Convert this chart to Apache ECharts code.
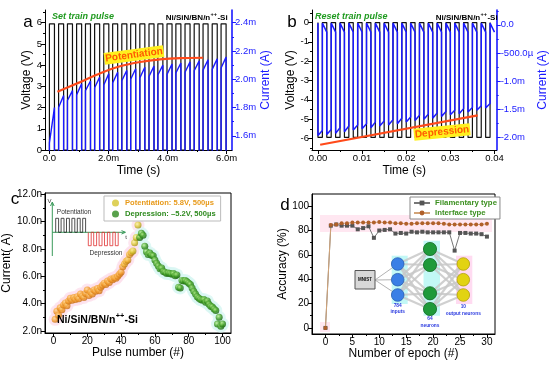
<!DOCTYPE html>
<html><head><meta charset="utf-8">
<script src="https://cdn.jsdelivr.net/npm/echarts@6/dist/echarts.min.js"></script>
<style>html,body{margin:0;padding:0;background:#fff}#c{width:550px;height:368px}</style>
</head><body><div id="c"></div><script>
// ================= DATA =================
// Panel a : set train pulse (time in ms, voltage in V, current in mA)
const setPulseStart = [0.00,0.31,0.61,0.92,1.22,1.53,1.84,2.14,2.45,2.75,3.06,3.37,3.67,3.98,4.28,4.59,4.90,5.20,5.51,5.81];
const setPulseWidth = 0.17;
const setVoltage = 5.95;
const setCurrentBase = 1.40;
const setCurrentStart = [1.55,1.80,1.85,1.89,1.92,1.94,1.96,1.975,1.99,2.00,2.01,2.02,2.03,2.035,2.045,2.05,2.06,2.065,2.07,2.08];
const setCurrentPeak  = [1.80,1.886,1.92,1.968,1.988,2.015,2.04,2.05,2.063,2.075,2.085,2.093,2.10,2.108,2.115,2.123,2.13,2.138,2.145,2.157];
const potTrendT = [0.27,1.04,1.72,2.39,3.07,3.74,4.42,5.20];
const potTrendV = [2.75,3.20,3.62,3.95,4.15,4.27,4.33,4.35];
const aTimeTicks = [0,2,4,6], aTimeLabels = ['0.0','2.0m','4.0m','6.0m'], aTimeMinor = [1,3,5];
const aVoltTicks = [0,1,2,3,4,5,6], aVoltLabels = ['0','1','2','3','4','5','6'], aVoltMinor = [0.5,1.5,2.5,3.5,4.5,5.5,6.5];
const aCurTicks = [1.6,1.8,2.0,2.2,2.4], aCurLabels = ['1.6m','1.8m','2.0m','2.2m','2.4m'], aCurMinor = [1.7,1.9,2.1,2.3];

// Panel b : reset train pulse (time in s, voltage in V, current in mA)
const resetPulseStart = [0.000,0.002,0.004,0.006,0.008,0.010,0.012,0.014,0.016,0.018,0.020,0.022,0.024,0.026,0.028,0.030,0.032,0.034,0.036,0.038];
const resetPulseWidth = 0.001;
const resetVoltage = -5.95;
const resetCurrentMin = [-1.97,-1.95,-1.93,-1.90,-1.87,-1.85,-1.83,-1.80,-1.78,-1.76,-1.73,-1.70,-1.68,-1.66,-1.63,-1.60,-1.58,-1.55,-1.52,-1.48];
const resetCurrentEnd = [-1.88,-1.86,-1.83,-1.80,-1.78,-1.76,-1.73,-1.71,-1.69,-1.66,-1.64,-1.61,-1.59,-1.57,-1.54,-1.52,-1.49,-1.47,-1.44,-1.40];
const resetCurrentTop = 0.03;
const resetCurrentTail = -0.13;
const depTrendT = [0.0005,0.0362];
const depTrendV = [-6.33,-4.81];
const bTimeTicks = [0,0.01,0.02,0.03,0.04], bTimeLabels = ['0.00','0.01','0.02','0.03','0.04'], bTimeMinor = [0.005,0.015,0.025,0.035];
const bVoltTicks = [-6,-5,-4,-3,-2,-1,0], bVoltLabels = ['-6','-5','-4','-3','-2','-1','0'], bVoltMinor = [-6.5,-5.5,-4.5,-3.5,-2.5,-1.5,-0.5,0.5];
const bCurTicks = [0,-0.5,-1,-1.5,-2], bCurLabels = ['0.0','-500.0\u00b5','-1.0m','-1.5m','-2.0m'], bCurMinor = [0.25,-0.25,-0.75,-1.25,-1.75];

// Panel c : current (nA) vs pulse number
const potPulseFirst = 1, depPulseFirst = 51;
const potCurrent = [2.85,3.45,3.15,3.70,3.55,3.90,4.05,3.85,4.20,4.40,4.25,4.45,4.30,4.50,4.35,4.70,4.55,4.45,4.75,5.00,4.60,4.85,4.70,5.00,4.90,5.10,4.95,5.20,5.35,5.50,5.40,5.65,5.55,5.80,5.75,5.90,5.85,6.00,6.15,6.30,6.70,6.90,7.10,7.20,7.60,7.75,7.85,8.45,8.85,9.75];
const depCurrent = [8.85,9.15,9.00,8.20,7.80,7.60,7.70,7.55,7.50,7.20,6.95,6.75,6.55,6.60,6.35,6.30,6.20,6.25,6.20,6.15,6.20,6.05,6.10,5.20,5.15,5.70,5.65,5.70,5.60,5.50,5.40,5.15,4.90,4.70,4.50,4.40,4.30,4.25,4.30,4.10,4.20,3.95,3.80,3.75,3.60,3.50,2.50,3.00,2.35,2.50];
const cPulseTicks = [0,20,40,60,80,100], cPulseLabels = ['0','20','40','60','80','100'], cPulseMinor = [10,30,50,70,90];
const cCurTicks = [2,4,6,8,10,12], cCurLabels = ['2.0n','4.0n','6.0n','8.0n','10.0n','12.0n'], cCurMinor = [3,5,7,9,11];

// Panel d : accuracy (%) vs epoch
const epochs = [0,1,2,3,4,5,6,7,8,9,10,11,12,13,14,15,16,17,18,19,20,21,22,23,24,25,26,27,28,29,30];
const filamentaryAcc = [0,84,85,84,84,84,81,82,83.5,74,80,80.5,81,77.5,78,77.5,79,78.5,79,78.5,78.5,78.5,78.5,78.5,63.5,78,78,77.5,77.5,77,75];
const interfaceAcc = [0,84.5,85,86,86,86.5,86.5,86.5,86.5,86.5,87,86.5,86.5,86,86,85.5,85.5,86,86,86,86,86,85.5,85,85,85,85,85,85,85,85.5];
const dEpochTicks = [0,5,10,15,20,25,30], dEpochLabels = ['0','5','10','15','20','25','30'], dEpochMinor = [2.5,7.5,12.5,17.5,22.5,27.5];
const dAccTicks = [0,20,40,60,80,100], dAccLabels = ['0','20','40','60','80','100'], dAccMinor = [10,30,50,70,90];

// ================= CHART =================
const FONT = 'Arial, "Liberation Sans", Helvetica, sans-serif';
const BLUE = '#1a1aff';
const lab = (ticks, labels, v) => { const i = ticks.findIndex(t => Math.abs(t - v) < 1e-9); return i >= 0 ? labels[i] : ''; };
function axPair(o) {
  const main = {
    type: 'value', gridIndex: o.grid, position: o.pos, min: o.min, max: o.max,
    name: o.name || '', nameLocation: 'middle', nameGap: o.gap,
    nameTextStyle: { fontFamily: FONT, fontSize: 12, color: o.color },
    axisLine: { show: true, onZero: false, lineStyle: { color: o.color, width: o.lw || 1 } },
    axisTick: { show: true, inside: false, length: 4, customValues: o.ticks, lineStyle: { color: o.color, width: 1 } },
    axisLabel: { show: true, customValues: o.ticks, margin: o.margin || 3, fontFamily: FONT, fontSize: o.fs || 10, color: o.color,
      formatter: v => lab(o.ticks, o.labels, v) },
    splitLine: { show: false }
  };
  const minor = {
    type: 'value', gridIndex: o.grid, position: o.pos, min: o.min, max: o.max,
    axisLine: { show: false, onZero: false },
    axisTick: { show: true, inside: false, length: 2, customValues: o.minor, lineStyle: { color: o.color, width: 1 } },
    axisLabel: { show: false }, splitLine: { show: false }
  };
  return [main, minor];
}

const xAxis = [
  ...axPair({grid:0,pos:'bottom',min:-0.15,max:6.18,ticks:aTimeTicks,labels:aTimeLabels,minor:aTimeMinor,color:'#000',name:'Time (s)',gap:15,fs:9.5}),
  ...axPair({grid:1,pos:'bottom',min:-0.00135,max:0.0405,ticks:bTimeTicks,labels:bTimeLabels,minor:bTimeMinor,color:'#000',name:'Time (s)',gap:15,fs:9.5}),
  ...axPair({grid:2,pos:'bottom',min:-5,max:105,ticks:cPulseTicks,labels:cPulseLabels,minor:cPulseMinor,color:'#000',name:'Pulse number (#)',gap:14}),
  ...axPair({grid:3,pos:'bottom',min:-2.5,max:31.5,ticks:dEpochTicks,labels:dEpochLabels,minor:dEpochMinor,color:'#000',name:'Number of epoch (#)',gap:14})
];
const yAxis = [
  ...axPair({grid:0,pos:'left',min:0,max:6.6,ticks:aVoltTicks,labels:aVoltLabels,minor:aVoltMinor,color:'#000',name:'Voltage (V)',gap:12,fs:9.5}),
  ...axPair({grid:0,pos:'right',min:1.5,max:2.49,ticks:aCurTicks,labels:aCurLabels,minor:aCurMinor,color:BLUE,name:'Current (A)',gap:26,fs:9.5,lw:1.6}),
  ...axPair({grid:1,pos:'left',min:-6.6,max:0.65,ticks:bVoltTicks,labels:bVoltLabels,minor:bVoltMinor,color:'#000',name:'Voltage (V)',gap:15,fs:9.5}),
  ...axPair({grid:1,pos:'right',min:-2.226,max:0.264,ticks:bCurTicks,labels:bCurLabels,minor:bCurMinor,color:BLUE,name:'Current (A)',gap:37,fs:9.5,lw:1.6,margin:4}),
  ...axPair({grid:2,pos:'left',min:1.85,max:12.1,ticks:cCurTicks,labels:cCurLabels,minor:cCurMinor,color:'#000',name:'Current( A)',gap:27}),
  ...axPair({grid:3,pos:'left',min:-5,max:110,ticks:dAccTicks,labels:dAccLabels,minor:dAccMinor,color:'#000',name:'Accuracy (%)',gap:19})
];

// build waveforms
const vA = [], iA = [];
setPulseStart.forEach((t, k) => {
  const e = t + setPulseWidth;
  vA.push([t, 0], [t, setVoltage], [e, setVoltage], [e, 0]);
  iA.push([t, setCurrentBase], [t, setCurrentStart[k]], [e, setCurrentPeak[k]], [e, setCurrentBase]);
});
const vB = [], iB = [];
resetPulseStart.forEach((t, k) => {
  const e = t + resetPulseWidth;
  vB.push([t, 0], [t, resetVoltage], [e, resetVoltage], [e, 0]);
  iB.push([t, k === 0 ? resetCurrentTop : resetCurrentTail], [t, resetCurrentMin[k]], [e, resetCurrentEnd[k]], [e, resetCurrentTop]);
});
const lastB = resetPulseStart[resetPulseStart.length - 1] + 2 * resetPulseWidth;
iB.push([lastB, resetCurrentTail]);
const potTrend = potTrendT.map((t, k) => [t, potTrendV[k]]);
potTrend[potTrend.length - 1] = { value: potTrend[potTrend.length - 1], symbol: 'triangle', symbolSize: 7, symbolRotate: -95 };
const depTrend = depTrendT.map((t, k) => [t, depTrendV[k]]);
const potData = potCurrent.map((v, k) => [potPulseFirst + k, v]);
const depData = depCurrent.map((v, k) => [depPulseFirst + k, v]);
const filData = epochs.map((e, k) => [e, filamentaryAcc[k]]);
const intData = epochs.map((e, k) => [e, interfaceAcc[k]]);

const sphere = (hi, base, edge) => ({ type: 'radial', x: 0.38, y: 0.35, r: 0.7,
  colorStops: [{ offset: 0, color: hi }, { offset: 0.55, color: base }, { offset: 1, color: edge }] });
const potColor = p => {
  const x = p.data[0];
  if (x >= 47) return sphere('#fff6a0', '#d6c531', '#9a8a10');
  if (x >= 42) return sphere('#ffe090', '#f0b030', '#b07010');
  return sphere('#ffd890', '#f29a2a', '#c06810');
};
const depSphere = sphere('#b8f090', '#3c9a22', '#145a0a');

const LPROPS = { type: 'line', showSymbol: false, animation: false, clip: true };
const series = [
  { ...LPROPS, name: 'vA', xAxisIndex: 0, yAxisIndex: 0, data: vA, lineStyle: { color: '#111', width: 1.2 } },
  { ...LPROPS, name: 'iA', xAxisIndex: 0, yAxisIndex: 2, data: iA, lineStyle: { color: BLUE, width: 1.4 } },
  { ...LPROPS, name: 'potTrend', xAxisIndex: 0, yAxisIndex: 0, data: potTrend, smooth: 0.3, lineStyle: { color: '#ff4a1a', width: 2.2 }, itemStyle: { color: '#ff4a1a' } },
  { ...LPROPS, name: 'vB', xAxisIndex: 2, yAxisIndex: 4, data: vB, lineStyle: { color: '#111', width: 1.2 } },
  { ...LPROPS, name: 'iB', xAxisIndex: 2, yAxisIndex: 6, data: iB, lineStyle: { color: BLUE, width: 1.5 } },
  { ...LPROPS, name: 'depTrend', xAxisIndex: 2, yAxisIndex: 4, data: depTrend, lineStyle: { color: '#ff4a1a', width: 2.2 } },
  { type: 'scatter', name: 'potGlow', xAxisIndex: 4, yAxisIndex: 8, data: potData, symbolSize: 13, itemStyle: { color: '#fde0ec' }, silent: true },
  { type: 'scatter', name: 'depGlow', xAxisIndex: 4, yAxisIndex: 8, data: depData, symbolSize: 13, itemStyle: { color: '#d8f6f3' }, silent: true },
  { type: 'scatter', name: 'Potentiation: 5.8V, 500\u00b5s', xAxisIndex: 4, yAxisIndex: 8, data: potData, symbolSize: 7, itemStyle: { color: potColor } },
  { type: 'scatter', name: 'Depression: \u20135.2V, 500\u00b5s', xAxisIndex: 4, yAxisIndex: 8, data: depData, symbolSize: 7, itemStyle: { color: depSphere } },
  { type: 'line', name: 'Filamentary type', xAxisIndex: 6, yAxisIndex: 10, data: filData, symbol: 'rect', symbolSize: 4,
    lineStyle: { color: '#777', width: 1 }, itemStyle: { color: '#555' } },
  { type: 'line', name: 'Interface type', xAxisIndex: 6, yAxisIndex: 10, data: intData, symbol: 'circle', symbolSize: 4,
    lineStyle: { color: '#d2a478', width: 1 }, itemStyle: { color: '#b0602a' } }
];

// ---------- graphics ----------
const G = [];
const mctx = document.createElement('canvas').getContext('2d');
const tw = (s, font) => { mctx.font = font; return mctx.measureText(s).width; };
const txt = (text, x, y, opt = {}) => G.push({ type: 'text', z: opt.z || 20, rotation: opt.rot || 0, x, y,
  style: { text, x: 0, y: 0, fill: opt.color || '#000', font: opt.font || ('12px ' + FONT), align: opt.align || 'center', verticalAlign: 'middle',
    backgroundColor: opt.bg, padding: opt.pad } });
const chem = (x, y, size, align) => {
  const f1 = 'bold ' + size + 'px ' + FONT, f2 = 'bold ' + (size * 0.7).toFixed(1) + 'px ' + FONT;
  const w1 = tw('Ni/SiN/BN/n', f1), w2 = tw('++', f2), w3 = tw('-Si', f1);
  const x0 = align === 'right' ? x - (w1 + w2 + w3) : x;
  txt('Ni/SiN/BN/n', x0, y, { font: f1, align: 'left' });
  txt('++', x0 + w1 + 0.3, y - size * 0.42, { font: f2, align: 'left' });
  txt('-Si', x0 + w1 + w2 + 0.6, y, { font: f1, align: 'left' });
};
const poly = (points, stroke, lw, z) => G.push({ type: 'polyline', z: z || 20, shape: { points }, style: { stroke, lineWidth: lw, fill: null } });
const rect = (x, y, w, h, fill, z, stroke) => G.push({ type: 'rect', z: z || 20, shape: { x, y, width: w, height: h }, style: { fill, stroke: stroke || null, lineWidth: 1 } });
const circ = (cx, cy, r, fill, stroke, z) => G.push({ type: 'circle', z: z || 22, shape: { cx, cy, r }, style: { fill, stroke, lineWidth: 0.8 } });

// panel letters
txt('a', 28, 22, { font: '17px ' + FONT });
txt('b', 292, 22, { font: '17px ' + FONT });
txt('c', 15, 199, { font: '17px ' + FONT });
txt('d', 285, 205, { font: '17px ' + FONT });
// panel a/b annotations
txt('Set train pulse', 52, 17, { font: 'italic bold 9px ' + FONT, color: '#1f9a1f', align: 'left' });
chem(227, 18, 8, 'right');
txt('Potentiation', 134, 55, { font: 'bold 10px ' + FONT, color: '#ff5a00', bg: '#fff01e', pad: [1, 1], rot: 0.13 });
txt('Reset train pulse', 315, 17, { font: 'italic bold 9px ' + FONT, color: '#1f9a1f', align: 'left' });
chem(497, 18, 8, 'right');
txt('Depression', 442, 132, { font: 'bold 10px ' + FONT, color: '#ff5a00', bg: '#fff01e', pad: [1, 1], rot: 0.1 });
// panel c annotations
chem(57, 320, 10.5, 'left');
poly([[52.3, 256], [52.3, 203]], '#3a9a5a', 1);
poly([[50.5, 206], [52.3, 202], [54.1, 206]], '#3a9a5a', 1);
poly([[52.3, 232.3], [125, 232.3]], '#3a9a5a', 1);
poly([[121.5, 230.6], [125.5, 232.3], [121.5, 234]], '#3a9a5a', 1);
const bp = [], rp = [];
for (let k = 0; k < 6; k++) { const x0 = 55.7 + 5.4 * k; bp.push([x0, 232.3], [x0, 218.3], [x0 + 2.9, 218.3], [x0 + 2.9, 232.3]); }
for (let k = 0; k < 6; k++) { const x0 = 88.3 + 5.4 * k; rp.push([x0, 232.3], [x0, 245.7], [x0 + 2.9, 245.7], [x0 + 2.9, 232.3]); }
poly(bp, '#222', 0.8); poly(rp, '#e03030', 0.8);
txt('Potentiation', 74, 212.5, { font: '6.5px ' + FONT, color: '#333' });
txt('Depression', 106, 253, { font: '6.5px ' + FONT, color: '#333' });
txt('V', 49.5, 201, { font: '6px ' + FONT, color: '#333' });
txt('t', 126, 237, { font: '6px ' + FONT, color: '#333' });
// panel d pink band
rect(320, 215, 172, 17, 'rgba(255,185,215,0.35)', 1);
rect(320, 322, 10, 10, 'rgba(255,185,215,0.35)', 1);
// neural network diagram
const inN = [[397.7, 264], [397.7, 279.7], [397.7, 295]];
const hidN = [[430, 249], [430, 265], [430, 293.3], [430, 309]];
const outN = [[463.3, 264], [463.3, 279.7], [463.3, 295]];
rect(391.7, 255.7, 16, 48.3, 'rgba(120,240,235,0.45)', 18);
rect(423.5, 240.7, 16.5, 75, 'rgba(120,240,235,0.45)', 18);
rect(456, 255.7, 16.3, 48.3, 'rgba(255,175,225,0.45)', 18);
inN.forEach(a => hidN.forEach(b => poly([a, b], 'rgba(200,200,200,0.85)', 2.2, 19)));
hidN.forEach(a => outN.forEach(b => poly([a, b], 'rgba(200,200,200,0.85)', 2.2, 19)));
inN.forEach(a => poly([[375, 280], a], 'rgba(170,170,170,0.9)', 1, 19));
rect(355, 270.5, 20, 18.5, '#d8d8d8', 20, '#555');
txt('MNIST', 365, 280, { font: 'bold 4.5px ' + FONT, color: '#111', z: 21 });
inN.forEach(p => circ(p[0], p[1], 6.3, '#3a7fe6', '#2a60b0'));
hidN.forEach(p => circ(p[0], p[1], 6.6, '#1f9a3a', '#156a28'));
outN.forEach(p => circ(p[0], p[1], 6.3, '#e2d312', '#b0a00c'));
txt('784', 397.7, 305.5, { font: 'bold 4.8px ' + FONT, color: '#2a3ae0' });
txt('inputs', 397.7, 312, { font: 'bold 4.8px ' + FONT, color: '#2a3ae0' });
txt('64', 430, 319, { font: 'bold 4.8px ' + FONT, color: '#2a3ae0' });
txt('neurons', 430, 325.5, { font: 'bold 4.8px ' + FONT, color: '#2a3ae0' });
txt('10', 463.3, 307, { font: 'bold 4.8px ' + FONT, color: '#2a3ae0' });
txt('output neurons', 463.3, 313.5, { font: 'bold 4.8px ' + FONT, color: '#2a3ae0' });

const option = {
  animation: false,
  backgroundColor: '#fff',
  textStyle: { fontFamily: FONT },
  grid: [
    { left: 45, top: 10, width: 187, height: 140 },
    { left: 312, top: 10, width: 188, height: 140 },
    { left: 45, top: 193, width: 186, height: 140, show: true, borderColor: '#000', borderWidth: 1, backgroundColor: 'transparent' },
    { left: 312, top: 194, width: 183, height: 140, show: true, borderColor: '#000', borderWidth: 1, backgroundColor: 'transparent' }
  ],
  xAxis, yAxis, series,
  legend: [
    { left: 104, top: 196, orient: 'vertical', itemGap: 3, itemWidth: 9, itemHeight: 7, padding: [3, 5, 3, 8],
      borderColor: '#bbb', borderWidth: 1, backgroundColor: '#fff', z: 30,
      textStyle: { fontFamily: FONT, fontSize: 7.6, fontWeight: 'bold' },
      data: [ { name: 'Potentiation: 5.8V, 500\u00b5s', icon: 'circle', itemStyle: { color: '#d6c531' }, textStyle: { color: '#e89a1a' } },
              { name: 'Depression: \u20135.2V, 500\u00b5s', icon: 'circle', itemStyle: { color: '#2e8a1e' }, textStyle: { color: '#2e8a1e' } } ] },
    { left: 410, top: 197, orient: 'vertical', itemGap: 2, itemWidth: 16, itemHeight: 6, padding: [2, 3, 2, 3],
      borderColor: '#888', borderWidth: 1, backgroundColor: '#fff', z: 30,
      textStyle: { fontFamily: FONT, fontSize: 7.8, fontWeight: 'bold', color: '#3c9020' },
      data: ['Filamentary type', 'Interface type'] }
  ],
  graphic: { elements: G }
};
const chart = echarts.init(document.getElementById('c'), null, { renderer: 'canvas' });
chart.setOption(option);
</script></body></html>
